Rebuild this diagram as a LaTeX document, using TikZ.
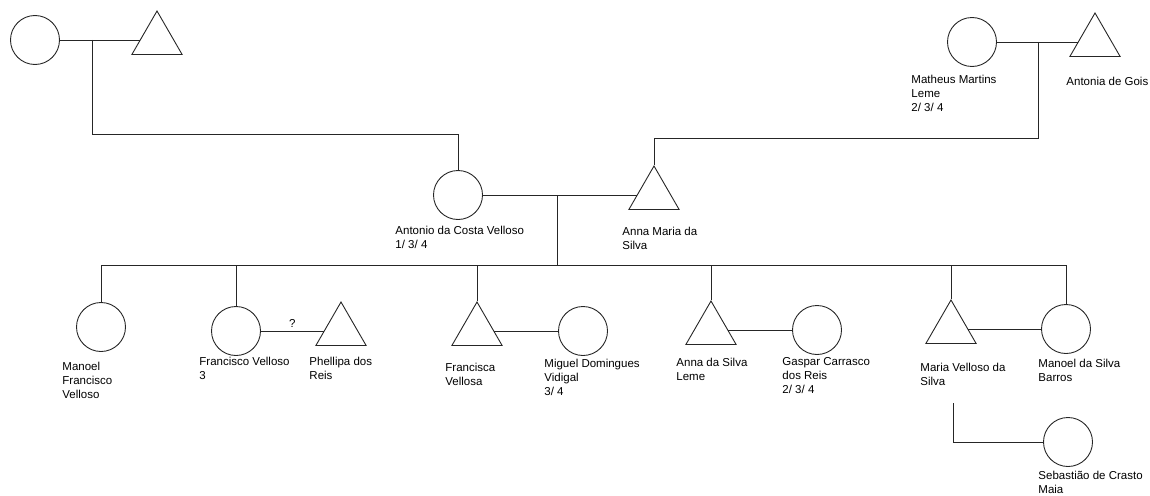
\documentclass[tikz,border=0pt]{standalone}
\usepackage{fontspec}
\setmainfont{Liberation Sans}
\usetikzlibrary{calc,shapes.geometric}
\tikzset{
	male/.style={draw,circle,minimum size=49pt,inner sep=0pt},
	female/.style={draw,regular polygon,regular polygon sides=3,minimum size=58pt,inner sep=0pt},
	lbl/.style={anchor=north west,align=left,inner sep=0pt,font=\fontsize{11.5}{14}\selectfont},
}
\begin{document}
\begin{tikzpicture}[x=1pt,y=-1pt,line width=0.9pt,draw=black!85]
	\newcommand{\barY}{265}
	\useasboundingbox (0,0) rectangle (1150,495);
	% grandparents
	\node[male] (lgf) at (35,40) {};
	\node[female] (lgm) at (157,40) {};
	\node[male] (matheus) at (972,42) {};
	\node[female] (antonia) at (1095,42) {};
	\node[lbl] (matheus-t) at (911,75) {Matheus Martins\\Leme\\2/ 3/ 4};
	\node[lbl] (antonia-t) at (1066,77) {Antonia de Gois};
	\draw (lgf) -- (lgm);
	\draw (matheus) -- (antonia);
	\coordinate (lcpl) at (92,40);
	\coordinate (rcpl) at (1038,42);
	% parents
	\node[male] (antonio) at (458,195) {};
	\node[female] (annamaria) at (654,195) {};
	\node[lbl] (antonio-t) at (395,226) {Antonio da Costa Velloso\\1/ 3/ 4};
	\node[lbl] (annamaria-t) at (622,227) {Anna Maria da\\Silva};
	\draw (lcpl) -- ++(0,94) -| (antonio.north);
	\draw (rcpl) -- ++(0,96) -| (annamaria.north);
	\draw (antonio) -- (annamaria);
	\coordinate (mcpl) at (557,195);
	\coordinate (bar) at (557,\barY);
	\draw (mcpl) -- (bar);
	% children
	\node[male] (manoelf) at (101,327) {};
	\node[male] (francisco) at (236,331) {};
	\node[female] (phellipa) at (341,331) {};
	\node[female] (francisca) at (477,331) {};
	\node[male] (miguel) at (583,331) {};
	\node[female] (annas) at (711,330) {};
	\node[male] (gaspar) at (817,330) {};
	\node[female] (maria) at (951,329) {};
	\node[male] (manoels) at (1066,329) {};
	\node[male] (sebastiao) at (1068,442) {};
	\node[lbl] (manoelf-t) at (62,362) {Manoel\\Francisco\\Velloso};
	\node[lbl] (francisco-t) at (199,357) {Francisco Velloso\\3};
	\node[lbl] (phellipa-t) at (309,357) {Phellipa dos\\Reis};
	\node[lbl] (francisca-t) at (445,363) {Francisca\\Vellosa};
	\node[lbl] (miguel-t) at (544,359) {Miguel Domingues\\Vidigal\\3/ 4};
	\node[lbl] (annas-t) at (676,358) {Anna da Silva\\Leme};
	\node[lbl] (gaspar-t) at (782,357) {Gaspar Carrasco\\dos Reis\\2/ 3/ 4};
	\node[lbl] (maria-t) at (920,363) {Maria Velloso da\\Silva};
	\node[lbl] (manoels-t) at (1038,359) {Manoel da Silva\\Barros};
	\node[lbl] (sebastiao-t) at (1038,471) {Sebastião de Crasto\\Maia};
	\draw (manoelf.north) |- (manoels.north |- bar) -- (manoels.north); %sibling bar
	\foreach \c in {francisco,francisca,annas,maria}
		\draw (\c.north) -- (\c.north |- bar);
	\draw (francisco) -- (phellipa) node[midway,above=3pt,font=\fontsize{11.5}{14}\selectfont,inner sep=0pt] (q) {?};
	\draw (francisca) -- (miguel);
	\draw (annas) -- (gaspar);
	\draw (maria) -- (manoels);
	\coordinate (mdesc) at (953,403);
	\draw (mdesc) |- (sebastiao.west);
\end{tikzpicture}
\end{document}
